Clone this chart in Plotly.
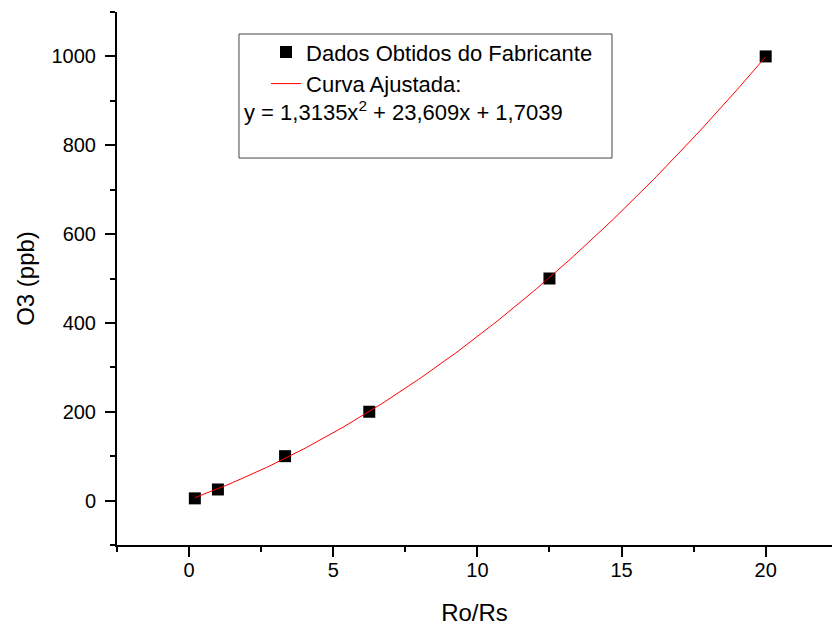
import numpy as np
import plotly.graph_objects as go

# Data
ro_rs = [0.2, 1.0, 3.33, 6.25, 12.5, 20.0]
o3_ppb = [5, 25, 100, 200, 500, 1000]

# Fitted curve coefficients shown in the legend
coef_a, coef_b, coef_c = 1.3135, 23.609, 1.7039
eq_text = "y = 1,3135x<sup>2</sup> + 23,609x + 1,7039"

x_range = [-2.5, 22.3]
y_range = [-100, 1100]
x_ticks = [0, 5, 10, 15, 20]
y_ticks = [0, 200, 400, 600, 800, 1000]

fit_x = np.linspace(min(ro_rs), max(ro_rs), 200)
fit_y = coef_a * fit_x**2 + coef_b * fit_x + coef_c

FONT = "Arial, Liberation Sans, sans-serif"

fig = go.Figure()
fig.add_trace(go.Scatter(
    x=ro_rs, y=o3_ppb, mode="markers",
    marker=dict(symbol="square", size=12, color="black"),
    name="Dados Obtidos do Fabricante",
))
fig.add_trace(go.Scatter(
    x=fit_x, y=fit_y, mode="lines",
    line=dict(color="red", width=1),
    name="Curva Ajustada:",
))

axis_common = dict(
    showline=True, linecolor="black", linewidth=2,
    ticks="outside", ticklen=10, tickwidth=2, tickcolor="black",
    showgrid=False, zeroline=False, automargin=False,
    tickfont=dict(family=FONT, size=20, color="black"),
)

fig.update_xaxes(
    range=x_range, tickvals=x_ticks, ticktext=[str(v) for v in x_ticks],
    ticklabelstandoff=-4,
    minor=dict(ticks="outside", ticklen=5, tickwidth=2, tickcolor="black", dtick=2.5, tick0=0),
    title=dict(text="Ro/Rs", font=dict(family=FONT, size=24, color="black"), standoff=24),
    **axis_common,
)
fig.update_yaxes(
    range=y_range, tickvals=y_ticks, ticktext=[str(v) for v in y_ticks],
    ticklabelstandoff=5,
    minor=dict(ticks="outside", ticklen=5, tickwidth=2, tickcolor="black", dtick=100, tick0=0),
    title=dict(text="O3 (ppb)", font=dict(family=FONT, size=24, color="black"), standoff=10),
    **axis_common,
)

fig.add_shape(type="rect", xref="paper", yref="paper",
              x0=0.1706, x1=0.6923, y0=0.726, y1=0.9587,
              line=dict(color="#444444", width=1))
fig.add_annotation(xref="paper", yref="paper", x=0.1748, y=0.814,
                   xanchor="left", yanchor="middle", showarrow=False,
                   text=eq_text, font=dict(family=FONT, size=22, color="black"))

fig.update_layout(
    width=832, height=626,
    margin=dict(l=117, r=0, t=12, b=81),
    plot_bgcolor="white", paper_bgcolor="white",
    font=dict(family=FONT, color="black"),
    showlegend=True,
    legend=dict(x=0.2084, y=0.964, xanchor="left", yanchor="top",
                bgcolor="rgba(0,0,0,0)", borderwidth=0,
                font=dict(family=FONT, size=22, color="black")),
)

fig.write_html("out.html", config={"displayModeBar": False},
               post_script="document.body.style.margin='0';document.body.style.overflow='hidden';")
